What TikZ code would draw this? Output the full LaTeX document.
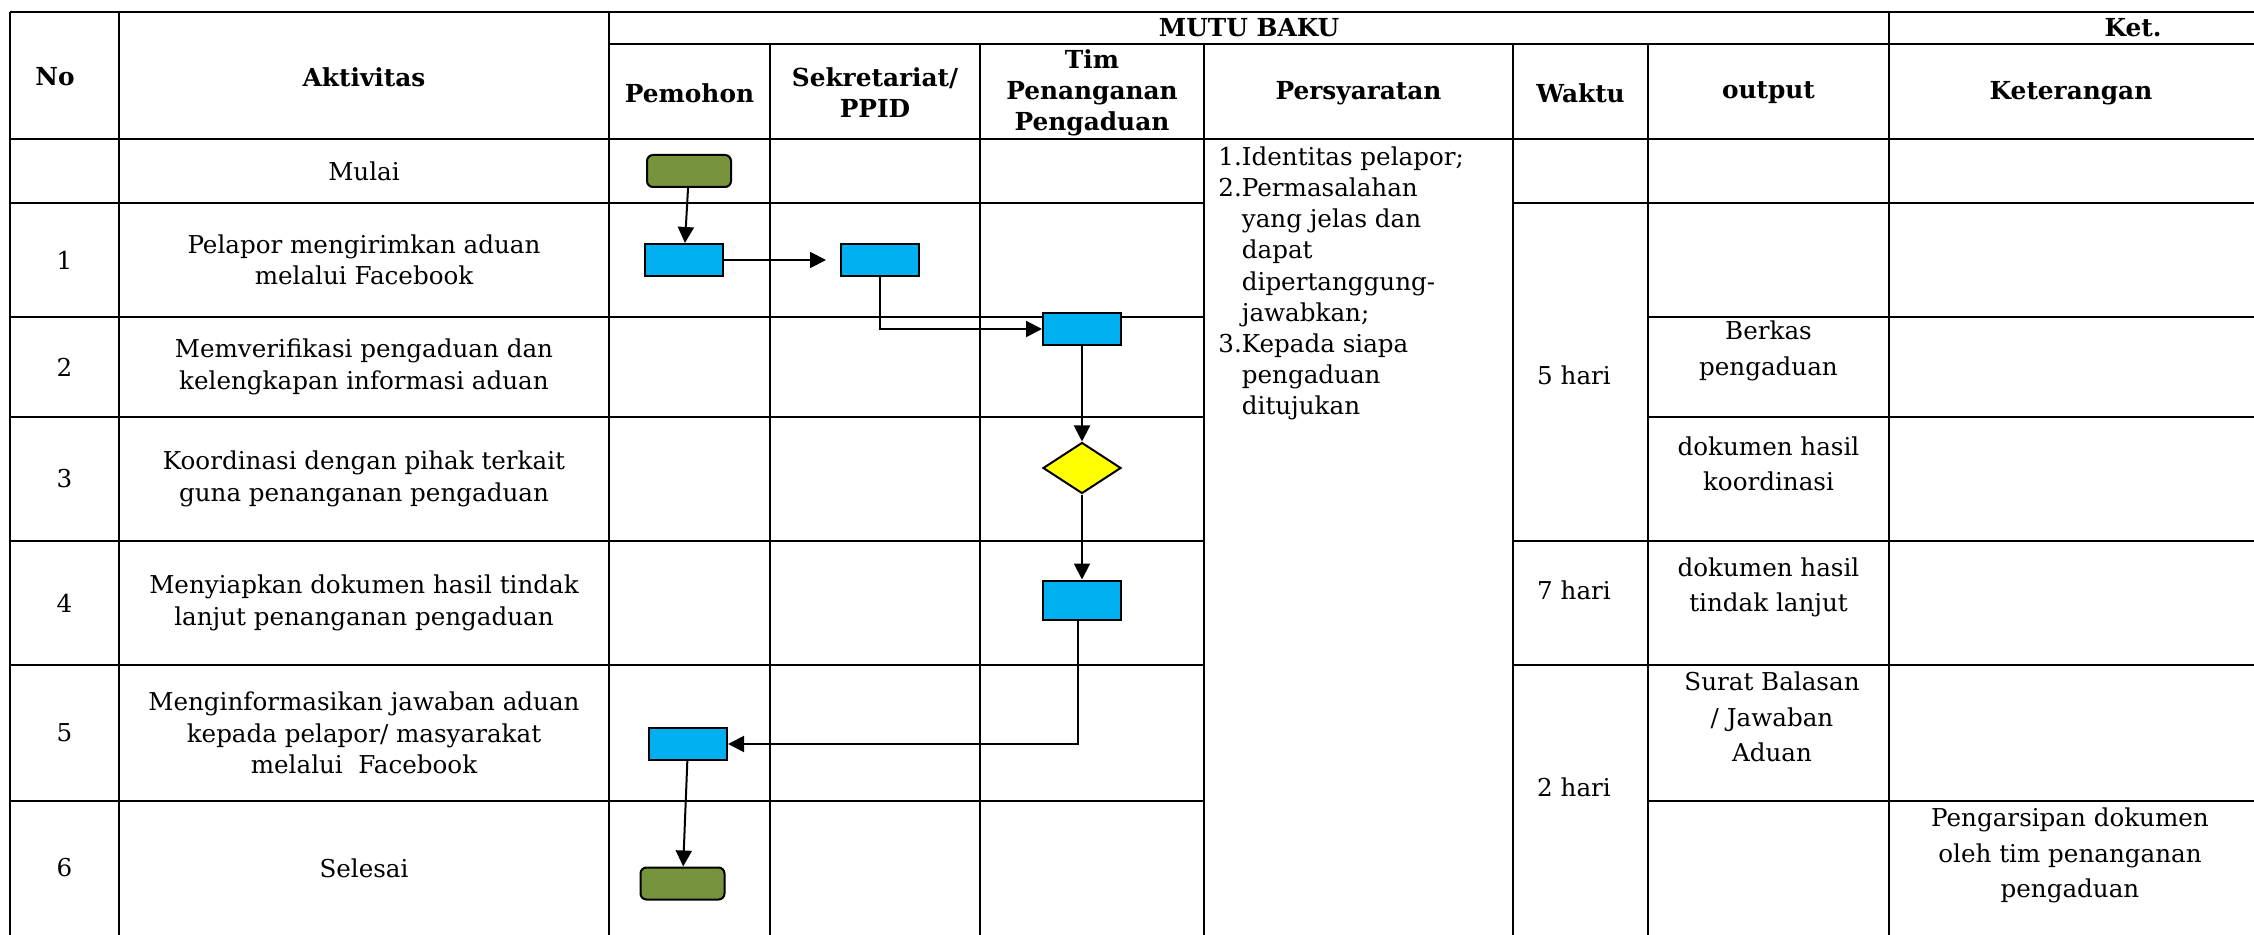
\documentclass[tikz,border=0pt]{standalone}
\usepackage{fontspec}
\setmainfont{DejaVu Serif}
\usetikzlibrary{arrows.meta,shapes.geometric}
\definecolor{procblue}{HTML}{00B0F0}
\definecolor{termgreen}{HTML}{77933C}
\definecolor{decyellow}{HTML}{FFFF00}
\begin{document}
\begin{tikzpicture}[x=0.5pt,y=-0.5pt,
  grid/.style={line width=1.2pt},
  hd/.style={font=\fontsize{12.4}{15.5}\selectfont\bfseries, align=center, inner sep=0},
  tx/.style={font=\fontsize{12.3}{15.8}\selectfont, align=center, inner sep=0},
  txo/.style={font=\fontsize{12.3}{17.7}\selectfont, align=center, inner sep=0},
  proc/.style={draw, line width=1pt, fill=procblue, minimum width=39pt, minimum height=16pt, inner sep=0},
  term/.style={draw, line width=1pt, fill=termgreen, rounded corners=3pt, minimum width=42pt, minimum height=16pt, inner sep=0},
  dec/.style={draw, diamond, fill=decyellow, line width=1pt, minimum width=39pt, minimum height=25.5pt, inner sep=0},
  arr/.style={line width=1pt, -{Triangle[length=8pt,width=8pt]}}
]
\useasboundingbox (0,0) rectangle (2254,935);
% grid
\draw[grid]
  (10,12) -- (2254,12)
  (609,44) -- (2254,44)
  (10,139) -- (2254,139)
  (10,203) -- (1204,203) (1513,203) -- (2254,203)
  (10,317) -- (1204,317) (1648,317) -- (2254,317)
  (10,417) -- (1204,417) (1648,417) -- (2254,417)
  (10,541) -- (1204,541) (1513,541) -- (2254,541)
  (10,665) -- (1204,665) (1513,665) -- (2254,665)
  (10,801) -- (1204,801) (1648,801) -- (2254,801)
  (10,12) -- (10,935)
  (119,12) -- (119,935)
  (609,12) -- (609,935)
  (770,44) -- (770,935)
  (980,44) -- (980,935)
  (1204,44) -- (1204,935)
  (1513,44) -- (1513,935)
  (1648,44) -- (1648,935)
  (1889,12) -- (1889,935);
% headers
\node[hd] (hNo) at (55,77) {No};
\node[hd] (hAkt) at (364,77) {Aktivitas};
\node[hd] (hMutu) at (1249,28) {MUTU BAKU};
\node[hd] (hKet) at (2133,28) {Ket.};
\node[hd] (hPem) at (689.5,93) {Pemohon};
\node[hd] (hSek) at (875,93) {Sekretariat/\\PPID};
\node[hd] (hTim) at (1092,93) {Tim\\Penanganan\\Pengaduan};
\node[hd] (hSya) at (1358.5,93) {Persyaratan};
\node[hd] (hWak) at (1580.5,93) {Waktu};
\node[hd] (hOut) at (1768.5,93) {output};
\node[hd] (hKe) at (2071,93) {Keterangan};
% numbers
\node[tx] (n1) at (64.5,260) {1};
\node[tx] (n2) at (64.5,367) {2};
\node[tx] (n3) at (64.5,479) {3};
\node[tx] (n4) at (64.5,603) {4};
\node[tx] (n5) at (64.5,733) {5};
\node[tx] (n6) at (64.5,868) {6};
% activities
\node[tx] (a0) at (364,171) {Mulai};
\node[tx] (a1) at (364,260) {Pelapor mengirimkan aduan\\melalui Facebook};
\node[tx] (a2) at (364,367) {Memverifikasi pengaduan dan\\kelengkapan informasi aduan};
\node[tx] (a3) at (364,479) {Koordinasi dengan pihak terkait\\guna penanganan pengaduan};
\node[tx] (a4) at (364,603) {Menyiapkan dokumen hasil tindak\\lanjut penanganan pengaduan};
\node[tx] (a5) at (364,733) {Menginformasikan jawaban aduan\\kepada pelapor/ masyarakat\\melalui~ Facebook};
\node[tx] (a6) at (364,868) {Selesai};
% persyaratan
\node[anchor=north west, inner sep=0, font=\fontsize{12.3}{15.6}\selectfont] (syarat) at (1218,143)
 {\begin{tabular}{@{}r@{}l@{}}1.&Identitas pelapor;\\2.&Permasalahan\\&yang jelas dan\\&dapat\\&dipertanggung-\\&jawabkan;\\3.&Kepada siapa\\&pengaduan\\&ditujukan\end{tabular}};
% waktu
\node[tx] (w5) at (1574,375) {5 hari};
\node[tx] (w7) at (1574,590) {7 hari};
\node[tx] (w2) at (1574,787) {2 hari};
% output
\node[txo] (o2) at (1768.5,351) {Berkas\\pengaduan};
\node[txo] (o3) at (1768.5,464) {dokumen hasil\\koordinasi};
\node[txo] (o4) at (1768.5,587.5) {dokumen hasil\\tindak lanjut};
\node[txo] (o5) at (1772,717) {Surat Balasan\\/ Jawaban\\Aduan};
% keterangan
\node[txo] (k6) at (2070,855.5) {Pengarsipan dokumen\\oleh tim penanganan\\pengaduan};
% flow shapes
\node[term] (start) at (689,171) {};
\node[proc] (p1) at (684,260) {};
\node[proc] (p2) at (880,260) {};
\node[proc] (p3) at (1082,329) {};
\node[dec] (d1) at (1082,468) {};
\node[proc, minimum height=19.5pt] (p4) at (1082,600) {};
\node[proc] (p5) at (688,744) {};
\node[term] (stop) at (682.5,883.5) {};
% connectors
\draw[arr] (start) -- (p1);
\draw[arr, shorten >=7pt] (p1.east) -- (p2.west);
\draw[arr] (p2.south) |- (p3.west);
\draw[arr] (p3) -- (d1);
\draw[arr] (d1) -- (p4);
\draw[arr] ([xshift=-2pt]p4.south) |- (p5.east);
\draw[arr] (p5) -- (stop);
\end{tikzpicture}
\end{document}
